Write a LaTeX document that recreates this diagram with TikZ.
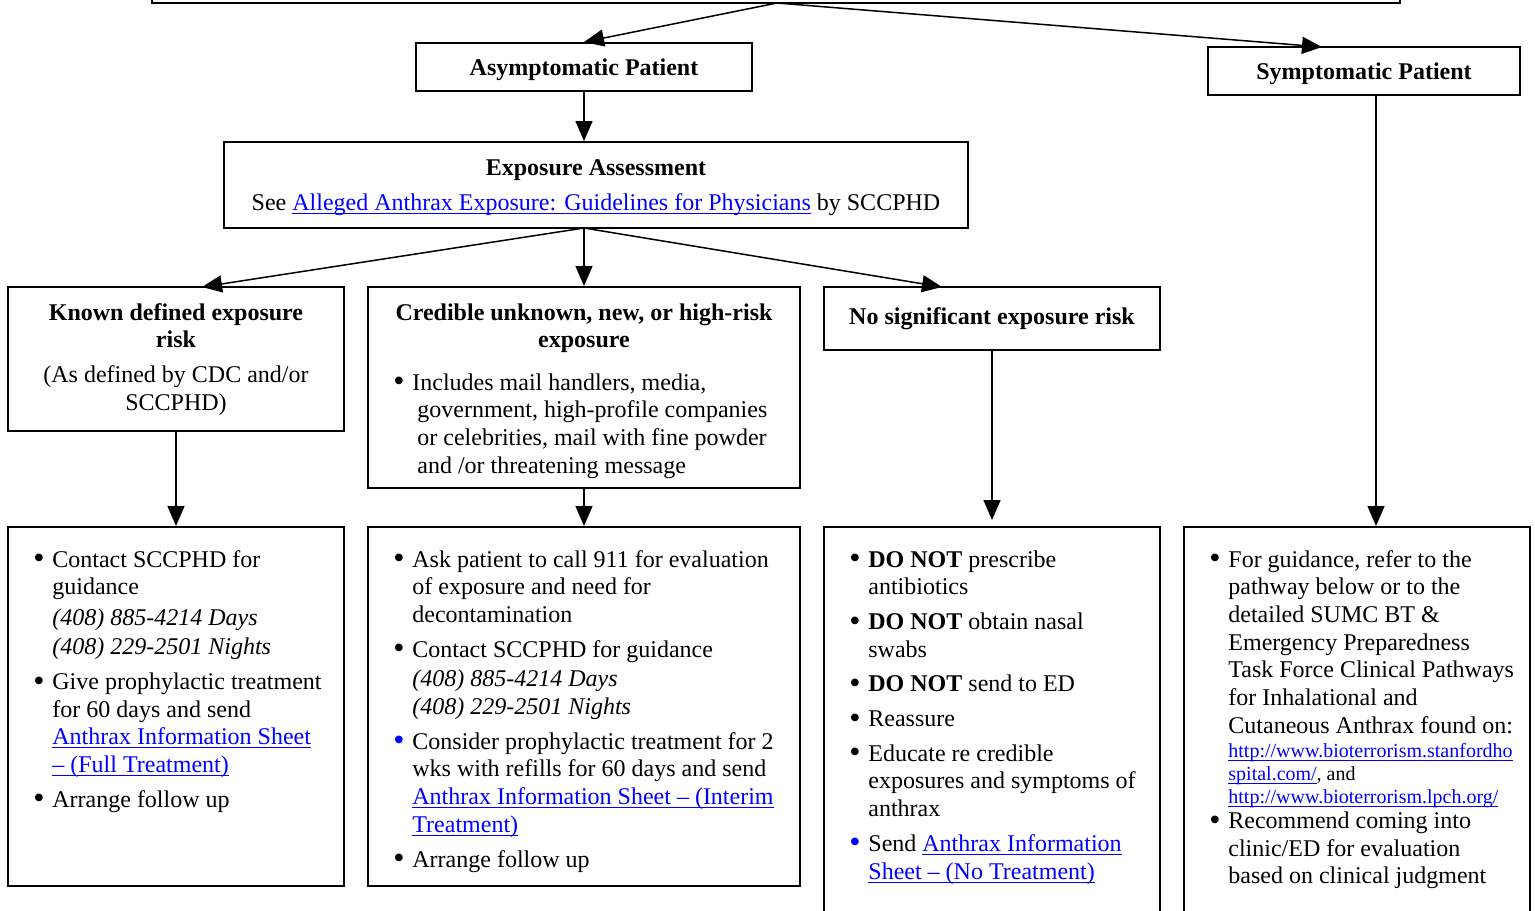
\documentclass[tikz,border=0pt]{standalone}
\usepackage{fontspec}
\setmainfont{Liberation Serif}
\usetikzlibrary{arrows.meta}
\definecolor{lnkblue}{RGB}{0,0,255}
\newcommand\lnk[1]{\textcolor{lnkblue}{\setbox0\hbox{#1}\rlap{\vrule height -1.3pt depth 1.8pt width \wd0}\box0}}
\newcommand\fnt{\fontsize{12}{13.85}\selectfont}
\newcommand\bitem[1][black]{\par\noindent\llap{\makebox[9.5pt][l]{\textcolor{#1}{\raisebox{-0.8pt}{\fontsize{16}{16}\selectfont\textbullet}}}}\ignorespaces}
\newenvironment{blist}[1]{\begin{minipage}[t]{#1}\fnt\setlength\parskip{3.5pt}\setlength\parindent{0pt}\setlength\leftskip{9.5pt}\setlength\rightskip{0pt plus 1fil}}{\end{minipage}}
\newenvironment{ctext}[1]{\begin{minipage}[t]{#1}\centering\fnt}{\end{minipage}}
\begin{document}
\begin{tikzpicture}[x=0.5pt,y=-0.5pt,
  box/.style={draw, line width=1pt, inner sep=0pt, rectangle},
  ttl/.style={font=\fnt\bfseries, inner sep=0pt},
  arr/.style={line width=0.75pt, -{Triangle[length=10pt,width=8.5pt]}},
  tx/.style={inner sep=0pt, anchor=base west},
  ctx/.style={inner sep=0pt, anchor=base}]
\clip (0,0) rectangle (1535,910);
% boxes
\node[box, minimum width=624pt, minimum height=31.5pt] (top) at (776,-28.5) {};
\node[box, ttl, text depth=0pt, minimum width=168pt, minimum height=24pt] (asym) at (584,67) {Asymptomatic Patient};
\node[box, ttl, text depth=0pt, minimum width=156pt, minimum height=24pt] (symp) at (1364,71) {Symptomatic Patient};
\node[box, minimum width=372pt, minimum height=43pt] (expo) at (596,185) {};
\node[ctx] (expoT) at (596,175) {\begin{ctext}{360pt}\textbf{Exposure Assessment}\\[4pt]See \lnk{Alleged Anthrax Exposure: Guidelines for Physicians} by SCCPHD\end{ctext}};
\node[box, minimum width=168pt, minimum height=72pt] (known) at (176,359) {};
\node[ctx] (knownT) at (176,320) {\begin{ctext}{165pt}\textbf{Known defined exposure}\\\textbf{risk}\\[3.5pt](As defined by CDC and/or\\SCCPHD)\end{ctext}};
\node[box, minimum width=216pt, minimum height=100.5pt] (cred) at (584,387.5) {};
\node[ctx] (credT) at (584,320) {\begin{ctext}{210pt}\textbf{Credible unknown, new, or high-risk}\\\textbf{exposure}\end{ctext}};
\node[tx] (credL) at (393,390) {\begin{blist}{205pt}\bitem Includes mail handlers, media,\\\hspace*{2.5pt}government, high-profile companies\\\hspace*{2.5pt}or celebrities, mail with fine powder\\\hspace*{2.5pt}and /or threatening message\end{blist}};
\node[box, ttl, minimum width=168pt, minimum height=31.5pt] (nosig) at (992,318.5) {No significant exposure risk};
% bottom boxes
\node[box, minimum width=168pt, minimum height=179.5pt] (boxA) at (176,706.5) {};
\node[box, minimum width=216pt, minimum height=179.5pt] (boxB) at (584,706.5) {};
\node[box, minimum width=168pt, minimum height=216.5pt] (boxC) at (992,743.5) {};
\node[box, minimum width=173pt, minimum height=216.5pt] (boxD) at (1357,743.5) {};
\node[tx] (textA) at (33,567) {\begin{blist}{160pt}\bitem Contact SCCPHD for\\guidance\\[1.5pt]\textit{(408) 885-4214 Days}\\[0.8pt]\textit{(408) 229-2501 Nights}
\bitem Give prophylactic treatment\\for 60 days and send\\\lnk{Anthrax Information Sheet}\\\lnk{– (Full Treatment)}
\bitem Arrange follow up\end{blist}};
\node[tx] (textB) at (393,567) {\begin{blist}{205pt}\bitem Ask patient to call 911 for evaluation\\of exposure and need for\\decontamination
\bitem Contact SCCPHD for guidance\\[1pt]\textit{(408) 885-4214 Days}\\\textit{(408) 229-2501 Nights}
\bitem[lnkblue] Consider prophylactic treatment for 2\\wks with refills for 60 days and send\\\lnk{Anthrax Information Sheet – (Interim}\\\lnk{Treatment)}
\bitem Arrange follow up\end{blist}};
\node[tx] (textC) at (849,567) {\begin{blist}{160pt}\bitem \textbf{DO NOT} prescribe\\antibiotics
\bitem \textbf{DO NOT} obtain nasal\\swabs
\bitem \textbf{DO NOT} send to ED
\bitem Reassure
\bitem Educate re credible\\exposures and symptoms of\\anthrax
\bitem[lnkblue] Send \lnk{Anthrax Information}\\\lnk{Sheet – (No Treatment)}\end{blist}};
\node[tx] (textD) at (1209,567) {\begin{blist}{170pt}\bitem For guidance, refer to the\\pathway below or to the\\detailed SUMC BT \&\\Emergency Preparedness\\Task Force Clinical Pathways\\for Inhalational and\\Cutaneous Anthrax found on:\par
{\fontsize{10}{11.5}\selectfont\vspace{-3.1pt}\noindent\lnk{http://www.bioterrorism.stanfordho}\\\lnk{spital.com/}, and\\\lnk{http://www.bioterrorism.lpch.org/}\par}
\vspace{-4.6pt}
\bitem Recommend coming into\\clinic/ED for evaluation\\based on clinical judgment\end{blist}};
% connectors
\coordinate (tsplit) at (777,3);
\coordinate (sympIn) at (1322,47);
\coordinate (esplit) at (584,228);
\coordinate (knownIn) at (202,287);
\coordinate (nosigIn) at (942,287);
\coordinate (sympOut) at (1376,95);
\draw[arr] (tsplit) -- (asym.north);
\draw[arr] (tsplit) -- (sympIn);
\draw[arr] (asym.south) -- (asym.south |- expo.north);
\draw[arr] (esplit) -- (knownIn);
\draw[arr] (esplit) -- (esplit |- cred.north);
\draw[arr] (esplit) -- (nosigIn);
\draw[arr] (known.south) -- (boxA.north);
\draw[arr] (cred.south) -- (boxB.north);
\draw[arr] (nosig.south) -- ([yshift=3pt]boxC.north);
\draw[arr] (sympOut) -- (sympOut |- boxD.north);
\end{tikzpicture}
\end{document}
